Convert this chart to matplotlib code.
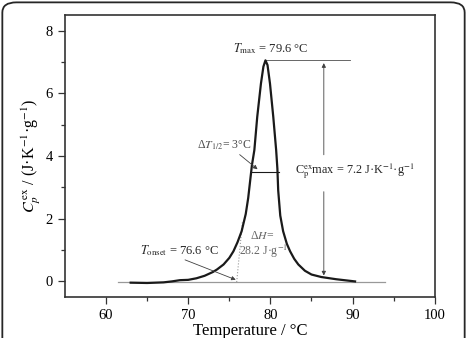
import matplotlib
matplotlib.use("Agg")
import matplotlib.pyplot as plt
from matplotlib.patches import FancyBboxPatch

plt.rcParams['font.family'] = ['Liberation Serif', 'DejaVu Serif']
plt.rcParams['mathtext.fontset'] = 'stix'

# excess heat capacity curve
temperature = [63.0, 65.0, 67.0, 68.0, 69.0, 70.0, 71.0, 72.0, 73.0, 73.5,
               74.3, 75.0, 75.5, 76.0, 76.5, 77.0, 77.3, 77.75, 78.05, 78.4,
               78.85, 79.15, 79.4, 79.65, 79.95, 80.35, 80.7, 80.85, 80.95, 81.2,
               81.55, 82.0, 82.4, 82.9, 83.4, 84.2, 85.0, 86.2, 88.0, 90.3]
cp_ex = [-0.04, -0.05, -0.03, 0.0, 0.04, 0.05, 0.1, 0.18, 0.3, 0.38,
         0.54, 0.75, 0.96, 1.25, 1.6, 2.15, 2.66, 3.7, 4.19, 5.25,
         6.31, 6.85, 7.05, 6.9, 6.31, 5.25, 4.19, 3.6, 2.9, 2.1,
         1.6, 1.2, 0.96, 0.72, 0.54, 0.34, 0.22, 0.14, 0.07, 0.0]

baseline_x = [61.5, 94.0]
baseline_y = [-0.02, -0.02]

t_max = 79.4
cp_max = 7.05
half_height = 3.5
half_left, half_right = 77.6, 81.0
onset_x = 75.9

x_ticks = [60, 70, 80, 90, 100]
y_ticks = [0, 2, 4, 6, 8]

fig = plt.figure(figsize=(4.67, 3.38), dpi=100)

# rounded frame around the whole picture (bottom runs off the image)
frame = FancyBboxPatch((0.005, -0.05), 0.99, 1.043,
                       boxstyle="round,pad=0,rounding_size=0.03",
                       transform=fig.transFigure, fill=False,
                       lw=1.3, ec='0.15')
fig.patches.append(frame)

ax = fig.add_axes([0.139, 0.121, 0.792, 0.835])

ax.plot(baseline_x, baseline_y, color='0.6', lw=0.9, zorder=1)
ax.plot(temperature, cp_ex, color='0.1', lw=1.6, zorder=3)

arrow = dict(arrowstyle='-|>', mutation_scale=6, lw=0.6, color='0.25')
thin = dict(color='0.3', lw=0.6)

# T max
ax.plot([t_max, 89.7], [cp_max, cp_max], **thin)
ax.text(80.1, 7.2, r"$T_{\rm max}$ = 79.6 °C", fontsize=9,
        ha='center', va='bottom', color='0.15')

# Cp max vertical arrows
ax.annotate('', xy=(86.5, cp_max), xytext=(86.5, 3.95), arrowprops=arrow)
ax.annotate('', xy=(86.5, 0.1), xytext=(86.5, 2.95), arrowprops=arrow)
ax.text(83.0, 3.5, r"C$_{\rm p}^{\rm ex}$max = 7.2 J·K$^{-1}$·g$^{-1}$",
        fontsize=8.8, ha='left', va='center', color='0.15')

# half width
ax.plot([half_left, half_right], [half_height, half_height], color='0.1', lw=0.8)
ax.annotate('', xy=(78.7, 3.52), xytext=(76.0, 4.1), arrowprops=arrow)
ax.text(71.1, 4.35, r"Δ$T_{1/2}$= 3°C", fontsize=8.5, ha='left', va='center',
        color='0.3')

# onset
ax.plot([onset_x, 76.6], [-0.02, 1.9], color='0.6', lw=0.8, ls=':')
ax.annotate('', xy=(76.1, 0.02), xytext=(69.3, 0.72), arrowprops=arrow)
ax.text(64.1, 0.97, r"$T_{\rm onset}$ = 76.6 °C", fontsize=9, ha='left',
        va='center', color='0.15')

# enthalpy
ax.text(79.0, 1.45, r"Δ$H$=", fontsize=8.5, ha='center', va='center', color='0.4')
ax.text(79.1, 0.95, r"28.2 J·g$^{-1}$", fontsize=8.5, ha='center', va='center',
        color='0.4')

ax.set_xlim(55, 100)
ax.set_ylim(-0.5, 8.5)
ax.set_xticks(x_ticks)
ax.set_yticks(y_ticks)
ax.set_xticks([65, 75, 85, 95], minor=True)
ax.set_yticks([1, 3, 5, 7], minor=True)
ax.tick_params(which='both', direction='out', labelsize=10.5, color='0.2',
               width=0.9)
ax.tick_params(which='major', length=5)
ax.tick_params(which='minor', length=3)
for s in ax.spines.values():
    s.set_linewidth(1.2)
    s.set_color('0.2')

ax.set_xlabel("Temperature / °C", fontsize=12, labelpad=1)
ax.set_ylabel(r"$C_p^{\,\rm ex}$ / (J·K$^{-1}$·g$^{-1}$)", fontsize=11.5,
              labelpad=2)

fig.savefig("out.png", dpi=100)
